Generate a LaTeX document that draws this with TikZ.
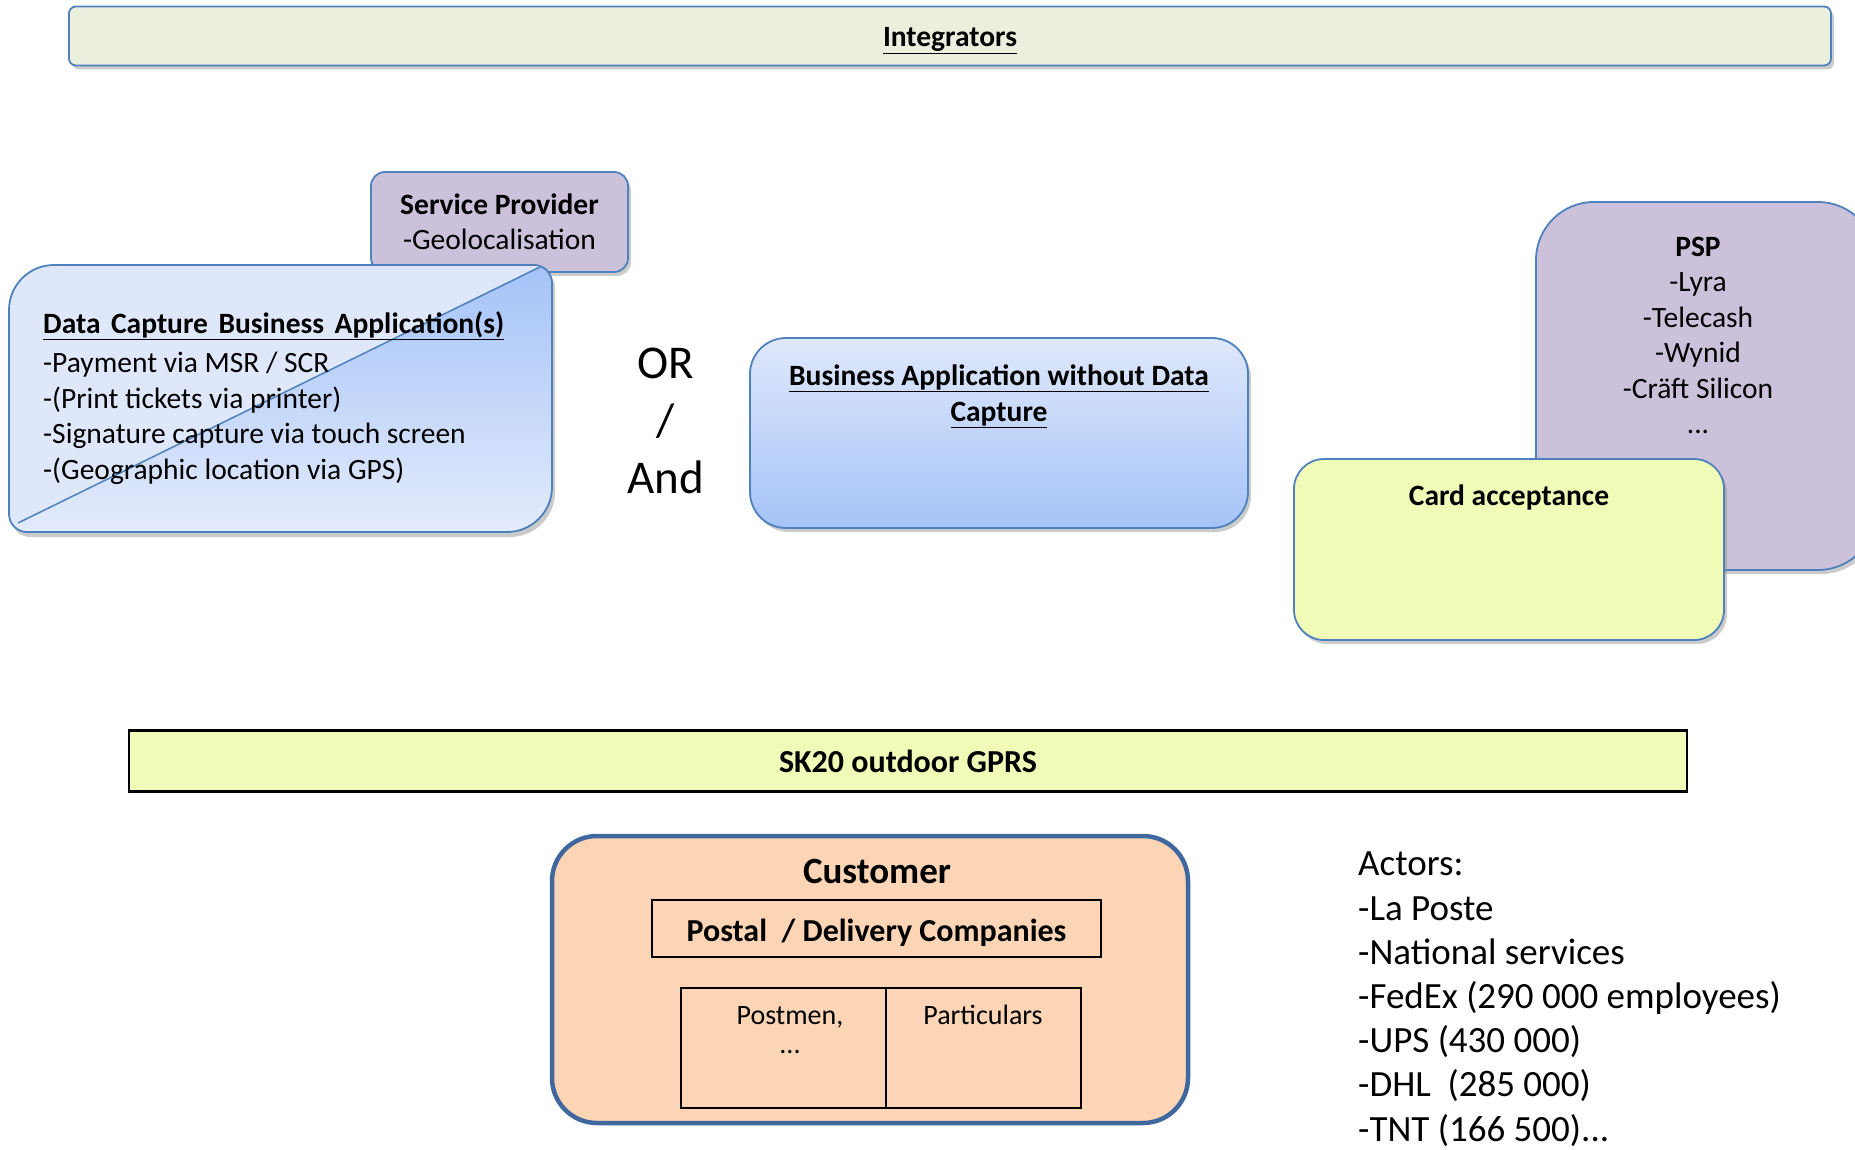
\documentclass[tikz,border=0pt]{standalone}
\usepackage{fontspec}
\setmainfont{Carlito}
\usetikzlibrary{shadows}
\definecolor{bord}{HTML}{4F81BD}
\definecolor{custbord}{HTML}{41689E}
\definecolor{integfill}{HTML}{EBEFDE}
\definecolor{purplefill}{HTML}{CCC1DA}
\definecolor{yellowfill}{HTML}{EFFBB6}
\definecolor{peach}{HTML}{FBD5B5}
\definecolor{lightblue}{HTML}{DFE8FB}
\definecolor{darkblue}{HTML}{A5C3F8}
\tikzset{
  shad/.style={drop shadow={shadow xshift=3pt,shadow yshift=-4pt,opacity=0.45,fill=black!45}},
  boxbase/.style={draw=bord,line width=1.8pt,inner sep=0pt,shad},
  txt/.style={inner sep=0pt,font=\fontsize{29.5}{35.5}\selectfont},
  btxt/.style={inner sep=0pt,font=\fontsize{29.5}{35.5}\selectfont\bfseries},
}
\begin{document}
\begin{tikzpicture}[x=1pt,y=-1pt]
\useasboundingbox (0,0) rectangle (1855,1150);

% Integrators bar
\node[boxbase,fill=integfill,rounded corners=7pt,minimum width=1762pt,minimum height=59pt] (integ) at (950,36) {};
\node[btxt,anchor=base] (integt) at (950,47) {\underline{Integrators}};

% Service provider
\node[boxbase,fill=purplefill,rounded corners=14pt,minimum width=257pt,minimum height=100pt] (sp) at (499.5,222) {};
\node[btxt,anchor=base] (spt1) at (499.5,215) {Service Provider};
\node[txt,anchor=base] (spt2) at (499.5,250) {-Geolocalisation};

% Data capture business application shape
\begin{scope}
\path[drop shadow={shadow xshift=3pt,shadow yshift=-5pt,opacity=0.45,fill=black!45}]
  (9,310) arc[start angle=180,end angle=90,radius=45pt] -- (534,265)
  arc[start angle=90,end angle=0,radius=18pt] -- (552,487)
  arc[start angle=0,end angle=-90,radius=45pt] -- (27,532)
  arc[start angle=270,end angle=180,radius=18pt] -- cycle;
\fill[lightblue]
  (9,310) arc[start angle=180,end angle=90,radius=45pt] -- (534,265)
  arc[start angle=90,end angle=0,radius=18pt] -- (552,487)
  arc[start angle=0,end angle=-90,radius=45pt] -- (27,532)
  arc[start angle=270,end angle=180,radius=18pt] -- cycle;
\clip (9,310) arc[start angle=180,end angle=90,radius=45pt] -- (534,265)
  arc[start angle=90,end angle=0,radius=18pt] -- (552,487)
  arc[start angle=0,end angle=-90,radius=45pt] -- (27,532)
  arc[start angle=270,end angle=180,radius=18pt] -- cycle;
\shade[top color=darkblue,bottom color=lightblue!80!white] (540,266) -- (560,266) -- (560,540) -- (16,540) -- (16,524) -- cycle;
\end{scope}
\draw[bord,line width=1.8pt]
  (9,310) arc[start angle=180,end angle=90,radius=45pt] -- (534,265)
  arc[start angle=90,end angle=0,radius=18pt] -- (552,487)
  arc[start angle=0,end angle=-90,radius=45pt] -- (27,532)
  arc[start angle=270,end angle=180,radius=18pt] -- cycle;
\draw[bord,line width=1.5pt] (540,267) -- (18,523);
\node[btxt,anchor=base west] (dct) at (43,333) {\underline{Data\hspace{10.5pt}Capture\hspace{10.5pt}Business\hspace{10.5pt}Application(s)}};
\node[txt,anchor=base west,align=left] (dcl) at (43,479) {-Payment via MSR / SCR\\-(Print tickets via printer)\\-Signature capture via touch screen\\-(Geographic location via GPS)};

% OR / And
\node[inner sep=0pt,anchor=base,align=center,font=\fontsize{47}{57.4}\selectfont] (orand) at (666,493.5) {OR\\/\\And};

% Business application without data capture
\node[boxbase,rounded corners=36pt,minimum width=498pt,minimum height=190pt,top color=lightblue,bottom color=darkblue] (ba) at (999,433) {};
\node[btxt,anchor=base,align=center,font=\fontsize{29.5}{36.5}\selectfont\bfseries] (bat) at (999,421.5) {\underline{Business Application without Data}\\\underline{Capture}};

% PSP
\node[boxbase,fill=purplefill,rounded corners=58pt,minimum width=340pt,minimum height=368pt] (psp) at (1706,386) {};
\node[txt,anchor=base,align=center] (pspt) at (1698,433.5) {\textbf{PSP}\\-Lyra\\-Telecash\\-Wynid\\-Cräft Silicon\\...};

% Card acceptance
\node[boxbase,fill=yellowfill,rounded corners=30pt,minimum width=430pt,minimum height=181pt] (card) at (1509,549.5) {};
\node[btxt,anchor=base] (cardt) at (1509,505) {Card acceptance};

% SK20 bar
\node[draw=black,line width=2.5pt,fill=yellowfill,minimum width=1558pt,minimum height=61pt,inner sep=0pt] (sk) at (908,761) {};
\node[inner sep=0pt,anchor=base,font=\fontsize{32}{38}\selectfont\bfseries] (skt) at (908,772) {SK20 outdoor GPRS};

% Customer
\node[draw=custbord,line width=4.5pt,fill=peach,rounded corners=45pt,minimum width=636pt,minimum height=287pt,inner sep=0pt] (cust) at (870,979.5) {};
\node[inner sep=0pt,anchor=base,font=\fontsize{37}{44}\selectfont\bfseries] (custt) at (877,883) {Customer};
\node[draw=black,line width=1.8pt,minimum width=449pt,minimum height=57pt,inner sep=0pt] (postal) at (876.5,928.5) {};
\node[inner sep=0pt,anchor=base,font=\fontsize{32}{38}\selectfont\bfseries] (postalt) at (876.5,941) {Postal\ \ / Delivery Companies};
\node[draw=black,line width=1.8pt,minimum width=205pt,minimum height=120pt,inner sep=0pt] (postmen) at (783.5,1048) {};
\node[draw=black,line width=1.8pt,minimum width=195pt,minimum height=120pt,inner sep=0pt] (partic) at (983.5,1048) {};
\node[inner sep=0pt,anchor=base,align=center,font=\fontsize{28}{29}\selectfont] (postment) at (790,1053) {Postmen,\\...};
\node[inner sep=0pt,anchor=base,font=\fontsize{28}{28}\selectfont] (partict) at (983,1024) {Particulars};

% Actors
\node[inner sep=0pt,anchor=base west,align=left,font=\fontsize{37}{44.2}\selectfont] (actors) at (1358,1141) {Actors:\\-La Poste\\-National services\\-FedEx (290 000 employees)\\-UPS (430 000)\\-DHL\ \ (285 000)\\-TNT (166 500)...};
\end{tikzpicture}
\end{document}
